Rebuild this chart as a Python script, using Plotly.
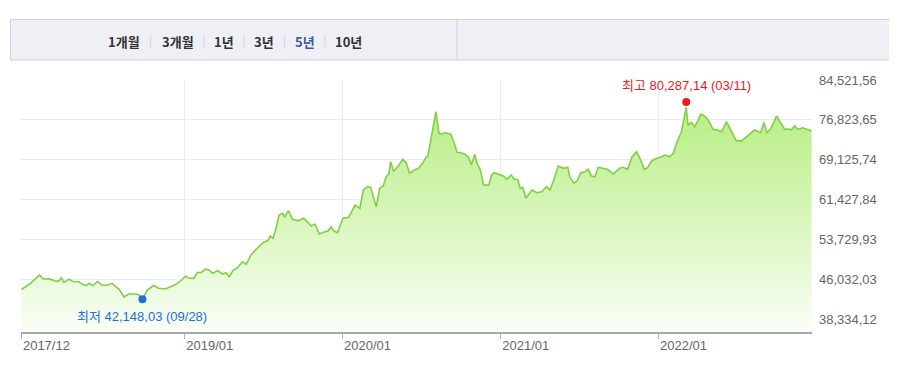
import plotly.graph_objects as go

# ---------------- data ----------------
dates = [
    "2017-12-19","2018-01-09","2018-01-30","2018-02-07","2018-02-21","2018-03-07","2018-03-16","2018-03-21",
    "2018-03-27","2018-04-08","2018-04-17","2018-05-01","2018-05-09","2018-05-17","2018-05-26","2018-06-02",
    "2018-06-13","2018-06-23","2018-07-03","2018-07-17","2018-07-25","2018-08-02","2018-08-13","2018-08-25",
    "2018-09-11","2018-09-17","2018-09-25","2018-10-06","2018-10-21","2018-11-01","2018-11-17","2018-11-25",
    "2018-12-11","2018-12-26",
    "2019-01-03","2019-01-10","2019-01-22","2019-01-30","2019-02-07","2019-02-18","2019-02-26","2019-03-06",
    "2019-03-18","2019-03-29","2019-04-06","2019-04-14","2019-04-23","2019-05-01","2019-05-15","2019-05-23",
    "2019-06-03","2019-06-15","2019-06-27","2019-07-04","2019-07-12","2019-07-18","2019-07-24","2019-07-30",
    "2019-08-07","2019-08-15","2019-08-20","2019-08-29","2019-09-07","2019-09-20","2019-10-03","2019-10-14",
    "2019-10-21","2019-10-29","2019-11-08","2019-11-21","2019-11-29","2019-12-05","2019-12-12","2019-12-20",
    "2020-01-02","2020-01-15","2020-01-30","2020-02-10","2020-02-18","2020-02-28","2020-03-06","2020-03-12",
    "2020-03-19","2020-03-27","2020-04-04","2020-04-11","2020-04-17","2020-04-21","2020-04-28","2020-05-08",
    "2020-05-19","2020-05-27","2020-06-04","2020-06-15","2020-06-25","2020-07-04","2020-07-12","2020-07-16",
    "2020-07-23","2020-08-04","2020-08-11","2020-08-17","2020-08-25","2020-09-07","2020-09-15","2020-09-22",
    "2020-09-30","2020-10-10","2020-10-18","2020-10-25","2020-11-02","2020-11-07","2020-11-15","2020-11-22",
    "2020-12-04","2020-12-11","2020-12-17","2020-12-27",
    "2021-01-07","2021-01-15","2021-01-25","2021-02-01","2021-02-09","2021-02-15","2021-02-21","2021-02-28",
    "2021-03-14","2021-03-25","2021-04-06","2021-04-17","2021-04-25","2021-05-05","2021-05-14","2021-05-26",
    "2021-06-05","2021-06-10","2021-06-19","2021-06-28","2021-07-05","2021-07-15","2021-07-22","2021-07-30",
    "2021-08-07","2021-08-14","2021-08-26","2021-09-05","2021-09-18","2021-10-03","2021-10-11","2021-10-21",
    "2021-11-01","2021-11-11","2021-11-19","2021-11-29","2021-12-07","2021-12-14","2021-12-23","2021-12-31",
    "2022-01-08","2022-01-16","2022-01-27","2022-02-04","2022-02-12","2022-02-23","2022-03-06","2022-03-10",
    "2022-03-18","2022-03-26","2022-04-09","2022-04-18","2022-04-26","2022-05-07","2022-05-17","2022-05-27",
    "2022-06-07","2022-06-17","2022-06-30","2022-07-12","2022-07-23","2022-08-04","2022-08-11","2022-08-25",
    "2022-09-02","2022-09-08","2022-09-17","2022-10-01","2022-10-12","2022-10-20","2022-10-31","2022-11-04",
    "2022-11-12","2022-11-19","2022-12-01","2022-12-16","2022-12-21",
]
values = [
    44032,45230,46834,46061,46080,45675,45650,46313,
    45423,46050,45578,45539,45037,44766,45230,44750,
    45578,44902,44805,45230,44573,44070,42582,43162,
    43150,42969,42148.03,43935,44805,44264,44129,44380,
    44998,45965,
    46641,46197,46180,47356,47279,47994,47801,47163,
    47665,47028,47279,46506,47801,48129,49405,48902,
    50700,51801,52632,53270,53464,54372,53927,55532,
    58431,58759,58102,59262,57599,57329,57793,56942,
    56305,56691,54758,55203,55396,56169,55338,55010,
    57793,57986,60363,59726,63262,63900,63784,61967,
    60035,63591,64035,65833,66355,68732,66934,67765,
    69196,68539,66490,67128,67456,68423,69582,69698,
    72926,78395,74221,74085,74337,74050,72404,70549,
    70471,70220,69582,68094,70162,68423,67128,64229,
    64200,66161,66606,66355,
    65968,65330,66161,65330,65300,63591,63784,61658,
    63262,62741,62934,63900,63262,65524,67901,67456,
    67650,65717,64557,65195,66606,66799,67263,65968,
    65833,67650,67456,67263,66355,67456,67650,67263,
    69698,70664,69389,67263,67650,68732,69196,69389,
    69698,70027,69698,70355,72404,74530,79246,75825,
    76347,75496,77951,77564,76791,74994,74858,74530,
    76463,74858,72791,72760,73564,74530,74858,74337,
    76347,74337,74994,77564,76153,74994,75052,74858,
    75632,74994,75303,74723,74665,
]

high_date, high_value, high_label = "2022-03-06", 80287.14, "최고 80,287,14 (03/11)"
low_date, low_value, low_label = "2018-09-25", 42148.03, "최저 42,148,03 (09/28)"

y_tickvals = [38334.12, 46032.03, 53729.93, 61427.84, 69125.74, 76823.65, 84521.56]
y_ticktext = ["38,334,12", "46,032,03", "53,729,93", "61,427,84", "69,125,74", "76,823,65", "84,521,56"]
x_tickvals = ["2017-12-19", "2019-01-01", "2020-01-01", "2021-01-01", "2022-01-01"]
x_ticktext = ["2017/12", "2019/01", "2020/01", "2021/01", "2022/01"]

periods = ["1개월", "3개월", "1년", "3년", "5년", "10년"]
active_period = "5년"

# ---------------- figure ----------------
# page body has an 8px default margin, so the figure is drawn 8px in from the window corner
OFF = 8
W, H = 897 - OFF, 366 - OFF
ML, MR, MT, MB = 13, 85, 72, 34
PW, PH = W - ML - MR, H - MT - MB
Y_RANGE = [35818, 84530]

def px_x(px):  # window pixel -> paper x
    return (px - OFF - ML) / PW

def px_y(py):  # window pixel -> paper y
    return (H - MB - (py - OFF)) / PH

FONT = "Liberation Sans, Arial, Noto Sans CJK KR, sans-serif"

fig = go.Figure()
fig.add_trace(go.Scatter(
    x=dates, y=values, mode="lines",
    line=dict(color="#7fd044", width=1.6),
    fill="tozeroy",
    fillgradient=dict(type="vertical",
                      colorscale=[[0, "rgb(250,254,246)"], [1, "rgb(176,236,118)"]],
                      start=Y_RANGE[0], stop=Y_RANGE[1]),
    hoverinfo="skip", showlegend=False,
))
fig.add_trace(go.Scatter(
    x=[high_date], y=[high_value], mode="markers",
    marker=dict(color="#f01818", size=8), hoverinfo="skip", showlegend=False,
))
fig.add_trace(go.Scatter(
    x=[low_date], y=[low_value], mode="markers",
    marker=dict(color="#1f6fdc", size=8), hoverinfo="skip", showlegend=False,
))

annotations = [
    dict(x=high_date, y=high_value, text=high_label, showarrow=False, yshift=16,
         font=dict(family=FONT, size=13, color="#f01818")),
    dict(x=low_date, y=low_value, text=low_label, showarrow=False, yshift=-17,
         font=dict(family=FONT, size=13, color="#1f6fdc")),
]

# period tab bar
tab_centers = [123.5, 178, 223.5, 263.5, 304.5, 348]
for name, cx in zip(periods, tab_centers):
    annotations.append(dict(
        xref="paper", yref="paper", x=px_x(cx), y=px_y(41), text=f"<b>{name}</b>",
        showarrow=False, xanchor="center", yanchor="middle",
        font=dict(family="Noto Sans CJK KR, sans-serif", size=13,
                  color="#3b56b8" if name == active_period else "#333333"),
    ))

shapes = [
    dict(type="rect", xref="paper", yref="paper", x0=px_x(10.5), x1=px_x(893.5),
         y0=px_y(60), y1=px_y(19.5), fillcolor="#eef0f5",
         line=dict(color="#cdd1da", width=1), layer="below"),
    dict(type="line", xref="paper", yref="paper", x0=px_x(457), x1=px_x(457),
         y0=px_y(60), y1=px_y(19.5), line=dict(color="#cdd1da", width=1)),
]
for sx in [150.7, 204, 244, 284.6, 325]:
    shapes.append(dict(type="line", xref="paper", yref="paper", x0=px_x(sx), x1=px_x(sx),
                       y0=px_y(48), y1=px_y(35), line=dict(color="#d4d7de", width=1)))

fig.update_layout(
    width=W, height=H,
    margin=dict(l=ML, r=MR, t=MT, b=MB, pad=0),
    paper_bgcolor="white", plot_bgcolor="white",
    font=dict(family=FONT, size=13, color="#666666"),
    annotations=annotations, shapes=shapes,
    xaxis=dict(
        type="date", range=["2017-12-18", "2022-12-22"],
        tickvals=x_tickvals, ticktext=x_ticktext,
        showgrid=True, gridcolor="#ececec", gridwidth=1,
        showline=True, linecolor="#a8a8a8", linewidth=2,
        ticks="outside", ticklen=5, tickcolor="#b0b0b0", tickwidth=1,
        ticklabelposition="outside right",
        tickfont=dict(family=FONT, size=13, color="#666666"),
        zeroline=False, fixedrange=True,
    ),
    yaxis=dict(
        range=Y_RANGE, side="right",
        tickvals=y_tickvals, ticktext=y_ticktext,
        showgrid=True, gridcolor="#ececec", gridwidth=1,
        showline=False, zeroline=False, ticks="",
        ticklabelstandoff=6,
        tickfont=dict(family=FONT, size=13, color="#666666"),
        fixedrange=True,
    ),
)

fig.write_html("out.html")
